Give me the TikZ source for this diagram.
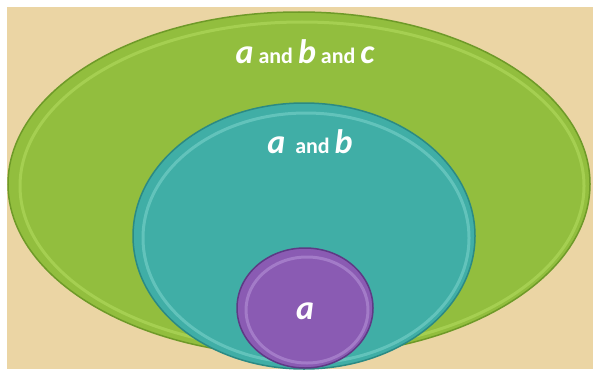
\documentclass[tikz,border=0pt]{standalone}
\usepackage{fontspec}
\setmainfont{Carlito}
\definecolor{bgtan}{HTML}{EBD5A4}
\definecolor{grn}{HTML}{92BE3E}
\definecolor{grnd}{HTML}{6E9A28}
\definecolor{grnl}{HTML}{B5DE62}
\definecolor{tea}{HTML}{40AEA6}
\definecolor{tead}{HTML}{2B8A84}
\definecolor{teal2}{HTML}{7FD6CE}
\definecolor{pur}{HTML}{8A5BB3}
\definecolor{purd}{HTML}{5E3A85}
\definecolor{purl}{HTML}{B896DA}
\tikzset{
  setshape/.style={draw=#1, line width=1.5pt},
  rim/.style={draw=#1, line width=3pt, opacity=0.55},
  lbl/.style={text=white, font=\bfseries\fontsize{22}{24}\selectfont, inner sep=0pt},
}
\newcommand{\bigit}[1]{{\fontsize{34}{36}\selectfont\itshape #1}}
\begin{document}
\begin{tikzpicture}[x=1pt,y=-1pt]
\useasboundingbox (0,0) rectangle (593,369);
\fill[white] (0,0) rectangle (593,369);
\fill[bgtan] (7,7) rectangle (593,369);
\begin{scope}
\clip (7,7) rectangle (593,369);
% big green
\path[fill=grn, setshape=grnd] (299,184) ellipse [x radius=291, y radius=172];
\draw[rim=grnl] (302,186) ellipse [x radius=282, y radius=164];
% teal
\path[fill=tea, setshape=tead] (304,236) ellipse [x radius=171, y radius=133];
\draw[rim=teal2] (306,238) ellipse [x radius=163, y radius=125];
% purple
\path[fill=pur, setshape=purd] (305,308) ellipse [x radius=68, y radius=60];
\draw[rim=purl] (307,310) ellipse [x radius=61, y radius=53];
\end{scope}
\node[lbl] (abc) at (305,52) {\bigit{a} and \bigit{b} and \bigit{c}};
\node[lbl] (ab) at (310,142) {\bigit{a}\ \ and \bigit{b}};
\node[lbl] (a) at (305,311) {\bigit{a}};
\end{tikzpicture}
\end{document}
